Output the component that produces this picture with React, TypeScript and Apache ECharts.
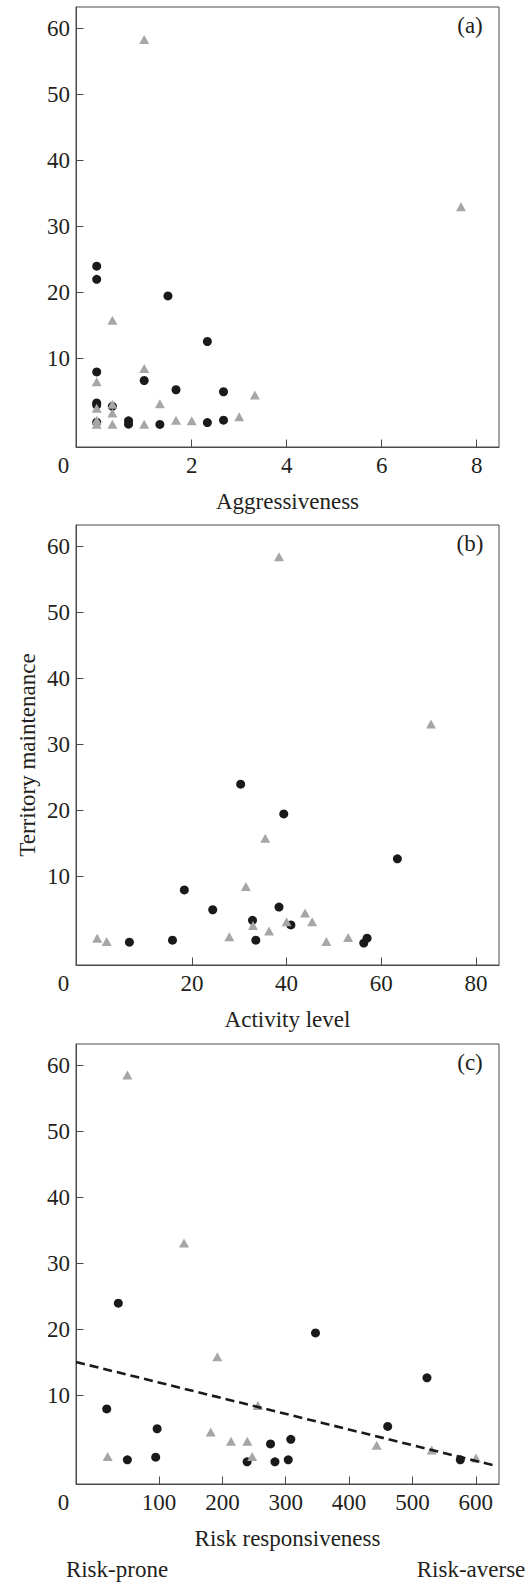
import React, { useEffect, useRef } from "react";
import * as echarts from "echarts";

// ---- data ----
const Y_TICKS = [10, 20, 30, 40, 50, 60];
const AGG_TICKS = [2, 4, 6, 8];
const ACT_TICKS = [20, 40, 60, 80];
const RISK_TICKS = [100, 200, 300, 400, 500, 600];

// Panel (a): aggressiveness vs territory maintenance
const aggBlack = [
  [0, 24.0], [0, 22.0], [1.5, 19.5], [2.33, 12.6], [0, 8.0], [1.0, 6.7],
  [1.67, 5.3], [2.67, 5.0], [0, 3.3], [0, 3.0], [0.33, 2.8], [0, 0.4],
  [0.67, 0.6], [0.67, 0.1], [1.33, 0.05], [2.33, 0.33], [2.67, 0.7],
];
const aggGray = [
  [1.0, 58.3], [7.67, 33.0], [0.33, 15.8], [1.0, 8.5], [0, 6.5], [3.33, 4.5],
  [1.33, 3.2], [0, 2.5], [0.33, 3.1], [0.33, 1.8], [0, 0.7], [0, 0.1],
  [0.33, 0.1], [1.0, 0.1], [1.67, 0.7], [2.0, 0.6], [3.0, 1.2],
];

// Panel (b): activity level vs territory maintenance
const actBlack = [
  [30.3, 24.0], [39.4, 19.5], [63.4, 12.7], [18.4, 8.0], [38.4, 5.4],
  [24.4, 5.0], [32.8, 3.4], [40.9, 2.7], [6.8, 0.1], [15.9, 0.4],
  [33.5, 0.4], [56.3, -0.05], [57.0, 0.7],
];
const actGray = [
  [38.4, 58.4], [70.5, 33.1], [35.5, 15.8], [31.4, 8.5], [43.9, 4.5],
  [40.0, 3.2], [45.4, 3.2], [32.9, 2.6], [36.3, 1.8], [0, 0.7], [2.0, 0.2],
  [27.9, 0.9], [48.4, 0.2], [53.0, 0.8],
];

// Panel (c): risk responsiveness vs territory maintenance
const riskBlack = [
  [35.7, 24.0], [347, 19.5], [523, 12.7], [17.4, 8.0], [461, 5.35],
  [97, 5.0], [308, 3.4], [276, 2.7], [94.7, 0.7], [50, 0.3], [304, 0.3],
  [575.6, 0.3], [239, 0.0], [283, 0.0],
];
const riskGray = [
  [50, 58.5], [139.4, 33.1], [192, 15.9], [256, 8.5], [181.6, 4.5],
  [213.6, 3.1], [239.3, 3.1], [443.6, 2.5], [530.5, 1.8], [18.9, 0.8],
  [247, 0.8], [600.4, 0.56],
];

// Regression line in panel (c)
const FIT_INTERCEPT = 14.36;
const FIT_SLOPE = -0.0237;
const FIT_X = [-31, 629];

const PANEL_LABELS = ["(a)", "(b)", "(c)"];
const X_TITLES = ["Aggressiveness", "Activity level", "Risk responsiveness"];
const Y_TITLE = "Territory maintenance";

// ---- styling / layout ----
const FONT = "'Liberation Serif', 'DejaVu Serif', serif";
const FS = 23;
const TXT = "#231f20";
const AXIS = "#4a4a4a";
const BLACK = "#1a1a1a";
const GRAY = "#a6a6a6";
const LEFT = 76;
const GW = 423;
const GH = 440;
const TOPS = [7, 525, 1044];
const X_RANGES = [
  [-0.436, 8.47],
  [-4.48, 84.86],
  [-31.1, 636.7],
];
const X_TICK_SETS = [AGG_TICKS, ACT_TICKS, RISK_TICKS];
const Y_MIN = -3.36;
const Y_MAX = 63.2;

function buildOption() {
  const grids = TOPS.map((t) => ({
    left: LEFT,
    top: t,
    width: GW,
    height: GH,
    show: true,
    borderColor: AXIS,
    borderWidth: 1,
    backgroundColor: "transparent",
    containLabel: false,
  }));

  const axisCommon = (ticks: number[]) => ({
    type: "value",
    axisLine: { show: true, onZero: false, lineStyle: { color: AXIS, width: 1 } },
    axisTick: {
      show: true,
      inside: true,
      length: 7.5,
      customValues: ticks,
      lineStyle: { color: AXIS, width: 1 },
    },
    axisLabel: {
      show: true,
      customValues: ticks,
      fontFamily: FONT,
      fontSize: FS,
      color: TXT,
    },
    splitLine: { show: false },
  });

  const xAxes = X_RANGES.map((r, i) => {
    const a: any = axisCommon(X_TICK_SETS[i]);
    a.gridIndex = i;
    a.min = r[0];
    a.max = r[1];
    a.axisLabel.margin = 7;
    return a;
  });
  const yAxes = TOPS.map((_, i) => {
    const a: any = axisCommon(Y_TICKS);
    a.gridIndex = i;
    a.min = Y_MIN;
    a.max = Y_MAX;
    a.axisLabel.margin = 6;
    return a;
  });

  const scatter = (data: number[][], i: number, black: boolean) => ({
    type: "scatter",
    xAxisIndex: i,
    yAxisIndex: i,
    data,
    symbol: black ? "circle" : "triangle",
    symbolSize: black ? 9 : [10, 9],
    itemStyle: { color: black ? BLACK : GRAY, opacity: 1 },
    z: black ? 2 : 3,
    silent: true,
  });

  const series: any[] = [
    scatter(aggBlack, 0, true),
    scatter(aggGray, 0, false),
    scatter(actBlack, 1, true),
    scatter(actGray, 1, false),
    scatter(riskBlack, 2, true),
    scatter(riskGray, 2, false),
    {
      type: "line",
      xAxisIndex: 2,
      yAxisIndex: 2,
      data: FIT_X.map((x) => [x, FIT_INTERCEPT + FIT_SLOPE * x]),
      showSymbol: false,
      symbol: "none",
      lineStyle: { type: [9, 5], width: 2.6, color: BLACK, opacity: 1 },
      z: 4,
      silent: true,
    },
  ];

  const textStyle = (text: string) => ({
    text,
    fontFamily: FONT,
    fontSize: FS,
    fill: TXT,
    textAlign: "center",
    textVerticalAlign: "middle",
    align: "center",
    verticalAlign: "middle",
  });

  const graphics: any[] = [];
  TOPS.forEach((t, i) => {
    const bottom = t + GH;
    graphics.push({ type: "text", x: 63.5, y: bottom + 18.5, style: textStyle("0") });
    graphics.push({ type: "text", x: 470, y: t + 18.5, style: textStyle(PANEL_LABELS[i]) });
    graphics.push({ type: "text", x: LEFT + GW / 2, y: bottom + 54.5, style: textStyle(X_TITLES[i]) });
  });
  graphics.push({
    type: "text",
    x: 27.5,
    y: 755,
    rotation: Math.PI / 2,
    style: textStyle(Y_TITLE),
  });
  graphics.push({ type: "text", x: 117, y: 1569, style: textStyle("Risk-prone") });
  graphics.push({ type: "text", x: 471, y: 1569, style: textStyle("Risk-averse") });

  return {
    animation: false,
    backgroundColor: "#ffffff",
    textStyle: { fontFamily: FONT },
    grid: grids,
    xAxis: xAxes,
    yAxis: yAxes,
    series,
    graphic: graphics,
  };
}

export default function App() {
  const ref = useRef<HTMLDivElement>(null);
  useEffect(() => {
    document.body.style.margin = "0";
    const chart = echarts.init(ref.current!, null, { renderer: "svg" });
    chart.setOption(buildOption() as any);
    return () => chart.dispose();
  }, []);
  return <div ref={ref} style={{ width: 531, height: 1584 }} />;
}
